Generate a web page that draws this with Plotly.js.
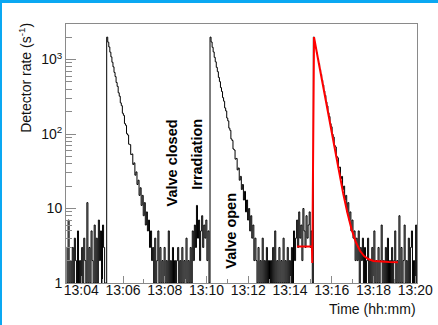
<!DOCTYPE html>
<html>
<head>
<meta charset="utf-8">
<script src="https://cdn.plot.ly/plotly-3.0.1.min.js"></script>
<style>
  html, body { margin: 0; padding: 0; background: #ffffff; }
  #wrap { width: 436px; height: 322px; border-top: 3px solid #0aa8f2; border-left: 2px solid #0aa8f2; background: #fff; }
  #chart { width: 436px; height: 322px; }
</style>
</head>
<body>
<div id="wrap"><div id="chart"></div></div>
<script>
// ---- DATA (seconds since 13:00:00, detector rate in 1/s) ----
const binStart = 196;     // first bin edge (13:03:16)
const binWidth = 3;       // seconds per bin

// background before the first extraction
const bgA = [3,1,7,1,2,1,3,1,4,2, 1,5,1,2,1,3,1,4,2,1, 12,1,3,1,5,2,1,6,1,4, 1,7,2,5,1,6,3,1,1];
// first decay (valve open)
const decay1 = [2000,1710,1475,1255,1085,920,798,672,590,492, 436,358,322,262,240,190,178,138,131,101,
                97,73,72,53,54,39,41,28,31,21, 24,15,19,11,15,8,12,6,9,5, 7,3,5,2];
// background, valve closed then irradiation
const bgB = [3,1,4,1,2,5,1,3,1,2, 1,3,1,2,1,5,1,2,1,3, 1,2,1,2,3,1,2,1,3,1, 2,1,4,1,2,1,
             3,1,5,2,6,3,11,4,7,2,5,8,3,6,4,7,2,5,1];
// second decay
const decay2 = [2000,1720,1460,1265,1070,932,785,688,575,505, 420,372,308,276,224,204,164,150,120,112,
                86,82,63,61,46,47,33,35,24,27, 18,21,13,17,9,13,7,10,5,8, 4,6,2,4];
// background before the third extraction
const bgC = [2,1,3,1,2,1,4,1,2,1, 3,1,2,1,2,1,3,1,5,1, 2,1,3,1,2,1,4,1,2,1, 3,1,2,1,
             3,1,5,2,4,7,3,9,4,6,2,10,5,3,8,4,6,9,3,5,1];
// third decay (fitted)
const decay3 = [2000,1700,1430,1225,1025,880,735,632,528,455, 378,330,270,238,193,172,138,125,99,91,
                70,67,50,48,35,36,25,27,18,20, 13,15,9,12,7,9,5,7,4,5, 2];
// background after the third decay
const bgD = [4,2,5,1,3,2,4,1,3,1, 2,4,1,2,1,3,1,5,1,2, 1,3,1,2,6,1,2,1,3,1, 4,1,2,1,3,1,2,5,1,2,
             1,8,1,3,1,2,6,1,2,1, 4,1,3,5,1,2,1,6,1,3];

// fit curve (red)
const fitTime = [860,903,904,909,921,933,945,957,969,981,993,1005,1017,1029,1041,1053,1065,1080,1100,1125,1150];
const fitRate = [3.1,3.1,1.86,2000,986,485,238,119,59,30.1,15.8,8.7,5.25,3.55,2.71,2.3,2.1,1.98,1.93,1.91,1.9];

// axis ticks
const xTickVals = [240,360,480,600,720,840,960,1080,1200];
const xTickText = ['13:04','13:06','13:08','13:10','13:12','13:14','13:16','13:18','13:20'];
const xMinorVals = [300,420,540,660,780,900,1020,1140];
const yTickVals = [1,10,100,1000];
const yTickText = ['1','10','10<sup>2</sup>','10<sup>3</sup>'];

// ---- BUILD ----
const rate = [].concat(bgA, decay1, bgB, decay2, bgC, decay3, bgD);
const edges = [];
for (let i = 0; i <= rate.length; i++) edges.push(binStart + i * binWidth);
const stepY = rate.concat([rate[rate.length - 1]]);

const yMinor = [];
[1,10,100,1000].forEach(d => { for (let k = 2; k <= 9; k++) { if (d*k <= 3000) yMinor.push(d*k); } });

const FONT = 'Liberation Sans, Arial, Helvetica, sans-serif';
const GRAY = '#8a8a8a';

const traces = [
  { x: edges, y: stepY, type: 'scatter', mode: 'lines',
    line: { shape: 'hv', color: '#000000', width: 1 }, hoverinfo: 'skip', showlegend: false },
  { x: fitTime, y: fitRate, type: 'scatter', mode: 'lines',
    line: { color: '#ff0000', width: 2 }, hoverinfo: 'skip', showlegend: false }
];

const layout = {
  width: 436, height: 322,
  margin: { l: 64, r: 21, t: 21, b: 42 },
  paper_bgcolor: '#ffffff', plot_bgcolor: '#ffffff',
  font: { family: FONT, size: 14, color: '#111' },
  showlegend: false,
  xaxis: {
    range: [196, 1205], showgrid: false, zeroline: false,
    showline: true, mirror: true, linecolor: GRAY, linewidth: 1,
    tickmode: 'array', tickvals: xTickVals, ticktext: xTickText,
    ticks: 'inside', ticklen: 7, tickcolor: GRAY, tickwidth: 1,
    ticklabelstandoff: -6,
    minor: { tickmode: 'array', tickvals: xMinorVals, ticks: 'inside', ticklen: 4, tickcolor: GRAY, showgrid: false },
    tickfont: { family: FONT, size: 14, color: '#111' }
  },
  yaxis: {
    type: 'log', range: [0, 3.477], showgrid: false, zeroline: false,
    showline: true, mirror: true, linecolor: GRAY, linewidth: 1,
    tickmode: 'array', tickvals: yTickVals, ticktext: yTickText,
    ticks: 'inside', ticklen: 10, tickcolor: GRAY, tickwidth: 1,
    minor: { tickmode: 'array', tickvals: yMinor, ticks: 'inside', ticklen: 6, tickcolor: GRAY, showgrid: false },
    tickfont: { family: FONT, size: 14, color: '#111' }
  },
  annotations: [
    { text: 'Detector rate (s<sup>-1</sup>)', xref: 'paper', yref: 'paper', x: -0.117, y: 1.012,
      xanchor: 'center', yanchor: 'top', textangle: -90, showarrow: false,
      font: { family: FONT, size: 14, color: '#111' } },
    { text: 'Time (hh:mm)', xref: 'paper', yref: 'paper', x: 1.003, y: -0.1,
      xanchor: 'right', yanchor: 'middle', showarrow: false,
      font: { family: FONT, size: 14, color: '#111' } },
    { text: '<b>Valve closed</b>', xref: 'x', yref: 'y', x: 502, y: 1.611,
      xanchor: 'center', yanchor: 'middle', textangle: -90, showarrow: false,
      font: { family: FONT, size: 14.5, color: '#000' } },
    { text: '<b>Irradiation</b>', xref: 'x', yref: 'y', x: 572, y: 1.732,
      xanchor: 'center', yanchor: 'middle', textangle: -90, showarrow: false,
      font: { family: FONT, size: 14.5, color: '#000' } },
    { text: '<b>Valve open</b>', xref: 'x', yref: 'y', x: 671, y: 0.705,
      xanchor: 'center', yanchor: 'middle', textangle: -90, showarrow: false,
      font: { family: FONT, size: 14.5, color: '#000' } }
  ]
};

Plotly.newPlot('chart', traces, layout, { staticPlot: true, displayModeBar: false });
</script>
</body>
</html>
